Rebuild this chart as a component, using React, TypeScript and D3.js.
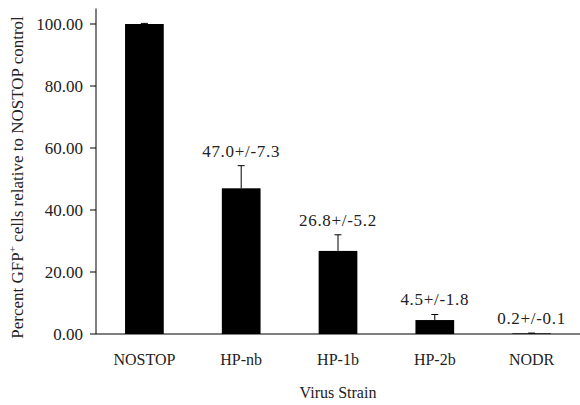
import React from "react";
import * as d3 from "d3";

const categories = ["NOSTOP", "HP-nb", "HP-1b", "HP-2b", "NODR"];
const values = [100.0, 47.0, 26.8, 4.5, 0.2];
const errors = [0.2, 7.3, 5.2, 1.8, 0.1];
const annotations = ["", "47.0+/-7.3", "26.8+/-5.2", "4.5+/-1.8", "0.2+/-0.1"];
const yTicks = [0, 20, 40, 60, 80, 100];

const W = 580;
const H = 405;
const margin = { left: 96, right: 0, top: 8.5, bottom: 71 };
const font = "'Liberation Serif', 'Times New Roman', serif";

export default function App() {
  const x = d3
    .scaleBand<string>()
    .domain(categories)
    .range([margin.left, W - margin.right])
    .paddingInner(0.6)
    .paddingOuter(0.3);
  const y = d3.scaleLinear().domain([0, 105]).range([H - margin.bottom, margin.top]);
  const y0 = y(0);
  const bw = x.bandwidth();

  return (
    <svg
      width={W}
      height={H}
      style={{ position: "absolute", left: 0, top: 0, background: "#fff" }}
      fontFamily={font}
    >
      <rect x={0} y={0} width={W} height={H} fill="#fff" />
      {categories.map((c, i) => {
        const cx = (x(c) as number) + bw / 2;
        const top = y(values[i]);
        const capY = y(values[i] + errors[i]);
        return (
          <g key={c}>
            <rect x={x(c)} y={top} width={bw} height={y0 - top} fill="#000" />
            <line x1={cx} x2={cx} y1={top} y2={capY} stroke="#000" strokeWidth={1} />
            <line x1={cx - 3.5} x2={cx + 3.5} y1={capY} y2={capY} stroke="#000" strokeWidth={1} />
            {annotations[i] && (
              <text
                x={cx}
                y={capY - 9}
                textAnchor="middle"
                fontSize={17}
                letterSpacing={0.7}
                fill="#222"
              >
                {annotations[i]}
              </text>
            )}
            <text x={cx} y={365} textAnchor="middle" fontSize={16} fill="#222">
              {c}
            </text>
          </g>
        );
      })}
      {/* y axis */}
      <line x1={margin.left} x2={margin.left} y1={margin.top} y2={y0} stroke="#000" strokeWidth={1} />
      {yTicks.map((t) => (
        <g key={t}>
          <line x1={margin.left - 6} x2={margin.left} y1={y(t)} y2={y(t)} stroke="#000" strokeWidth={1} />
          <text
            x={margin.left - 13}
            y={y(t)}
            dy="0.35em"
            textAnchor="end"
            fontSize={17}
            fill="#222"
          >
            {t.toFixed(2)}
          </text>
        </g>
      ))}
      {/* x axis */}
      <line x1={margin.left} x2={W} y1={y0} y2={y0} stroke="#000" strokeWidth={1} />
      <text x={338} y={398} textAnchor="middle" fontSize={16} fill="#222">
        Virus Strain
      </text>
      <text
        transform={`translate(23, 177.5) rotate(-90)`}
        textAnchor="middle"
        fontSize={17}
        fill="#222"
      >
        Percent GFP
        <tspan fontSize={11} dy={-7}>+</tspan>
        <tspan dy={7}> cells relative to NOSTOP control</tspan>
      </text>
    </svg>
  );
}
